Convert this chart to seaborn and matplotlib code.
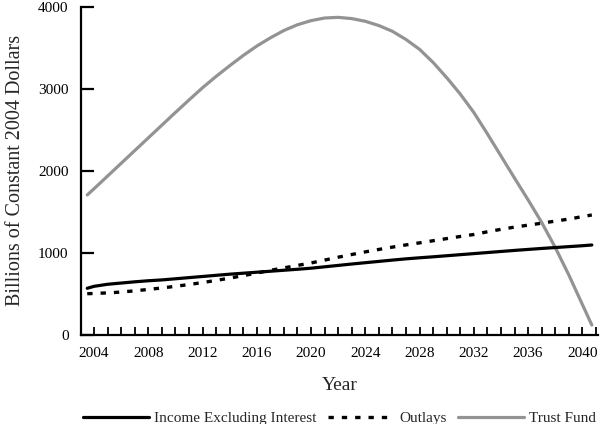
import numpy as np
import pandas as pd
import matplotlib
matplotlib.use("Agg")
import matplotlib.pyplot as plt
import seaborn as sns

years = [2003.5] + list(range(2004, 2041)) + [2040.7]

income = [566, 590, 615, 630, 645, 658, 668, 682, 696, 710, 724, 738, 750, 762,
          774, 786, 798, 811, 828, 845, 862, 878, 894, 910, 925, 938, 950, 963,
          976, 989, 1002, 1015, 1028, 1040, 1052, 1063, 1074, 1085, 1094]

outlays = [500, 503, 510, 520, 535, 552, 570, 590, 612, 636, 662, 690, 720, 752,
           785, 815, 845, 875, 910, 945, 978, 1010, 1040, 1068, 1095, 1120, 1146,
           1172, 1198, 1222, 1255, 1285, 1312, 1336, 1360, 1385, 1410, 1440, 1460]

trust_fund = [1704, 1780, 1935, 2090, 2245, 2400, 2555, 2710, 2862, 3012, 3150,
              3280, 3405, 3520, 3620, 3710, 3780, 3830, 3862, 3870, 3855, 3822,
              3770, 3700, 3600, 3480, 3320, 3135, 2935, 2710, 2450, 2180, 1910,
              1645, 1370, 1065, 730, 370, 118]

series_names = ["Income Excluding Interest", "Outlays", "Trust Fund"]
x_tick_labels = list(range(2004, 2041, 4))
y_ticks = [0, 1000, 2000, 3000, 4000]

df = pd.DataFrame({"Year": years, series_names[0]: income,
                   series_names[1]: outlays, series_names[2]: trust_fund})

sns.set_style("ticks")
plt.rcParams["font.family"] = ["Liberation Serif", "DejaVu Serif"]

fig = plt.figure(figsize=(6.0, 4.24), dpi=100)
ax = fig.add_axes([0.135, 0.2106, 0.862, 0.7736])

styles = {
    series_names[0]: dict(color="black", lw=2.3, ls="-"),
    series_names[1]: dict(color="black", lw=2.4, ls=(0, (1.6, 2.4))),
    series_names[2]: dict(color="#939393", lw=2.3, ls="-"),
}
order = [series_names[2], series_names[0], series_names[1]]
for name in order:
    st = styles[name]
    sns.lineplot(data=df, x="Year", y=name, ax=ax, color=st["color"],
                 linewidth=st["lw"], linestyle=st["ls"], label=name)

ax.set_xlim(2003.04, 2041.17)
ax.set_ylim(0, 4000)
ax.set_xticks(x_tick_labels)
ax.set_xticklabels([str(v) for v in x_tick_labels])
ax.set_xticks(list(range(2004, 2042)), minor=True)
ax.set_yticks(y_ticks)
ax.set_yticklabels(["0", "1000", "2000", "3000", "4000"])

for s in ["top", "right"]:
    ax.spines[s].set_visible(False)
for s in ["left", "bottom"]:
    ax.spines[s].set_linewidth(1.6)
    ax.spines[s].set_color("black")

ax.tick_params(axis="x", which="both", direction="in", length=6, width=1.3,
               labelsize=11, pad=9, colors="black")
ax.tick_params(axis="y", which="major", direction="in", length=9.5, width=1.6,
               labelsize=11, pad=9, colors="black")
ax.tick_params(axis="y", which="minor", length=0)

ax.set_xlabel("Year", fontsize=14, labelpad=12)
ax.set_ylabel("Billions of Constant 2004 Dollars", fontsize=14.5, labelpad=9)

h, l = ax.get_legend_handles_labels()
lookup = dict(zip(l, h))
ax.legend([lookup[n] for n in series_names], series_names,
          loc="upper center", bbox_to_anchor=(0.5, -0.215), ncol=3,
          frameon=False, fontsize=11, handlelength=4.3, handletextpad=0.35,
          columnspacing=0.75, borderaxespad=0)

fig.savefig("out.png", dpi=100)
